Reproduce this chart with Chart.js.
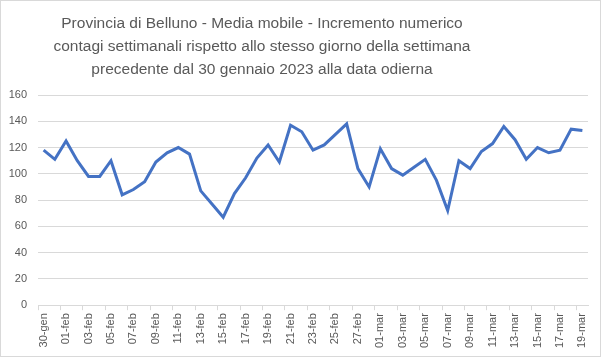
<!DOCTYPE html>
<html>
<head>
<meta charset="utf-8">
<script src="https://cdn.jsdelivr.net/npm/chart.js@4/dist/chart.umd.min.js"></script>
<style>
  html, body { margin: 0; padding: 0; background: #fff; }
  #wrap { position: absolute; left: 0; top: 0; width: 599px; height: 355px; border: 1px solid #d9d9d9; }
  canvas { display: block; }
  #title { position: absolute; left: 0; top: 11px; width: 524px; text-align: center;
           font: 15.5px 'Liberation Sans', Arial, sans-serif; line-height: 23px; color: #595959; white-space: nowrap; }
</style>
</head>
<body>
<div id="wrap"><canvas id="c" width="599" height="355"></canvas></div>
<div id="title"></div>
<script>
const titleLines = [
  "Provincia di Belluno - Media mobile - Incremento numerico",
  "contagi settimanali rispetto allo stesso giorno della settimana",
  "precedente dal 30 gennaio 2023 alla data odierna"
];
const categories = [
  "30-gen","31-gen",
  "01-feb","02-feb","03-feb","04-feb","05-feb","06-feb","07-feb","08-feb","09-feb","10-feb",
  "11-feb","12-feb","13-feb","14-feb","15-feb","16-feb","17-feb","18-feb","19-feb","20-feb",
  "21-feb","22-feb","23-feb","24-feb","25-feb","26-feb","27-feb","28-feb",
  "01-mar","02-mar","03-mar","04-mar","05-mar","06-mar","07-mar","08-mar","09-mar","10-mar",
  "11-mar","12-mar","13-mar","14-mar","15-mar","16-mar","17-mar","18-mar","19-mar"
];
const values = [
  118, 111,
  125, 110, 98, 98, 110, 84, 88, 94, 109, 116,
  120, 115, 87, 77, 67, 85, 97, 112, 122, 109,
  137, 132, 118, 122, 130, 138, 104, 90,
  119, 104, 99, 105, 111, 95, 72, 110, 104, 117,
  123, 136, 126, 111, 120, 116, 118, 134, 133
];
const yTicks = [0, 20, 40, 60, 80, 100, 120, 140, 160];

const titleEl = document.getElementById('title');
titleLines.forEach((t, i) => {
  if (i) titleEl.appendChild(document.createElement('br'));
  titleEl.appendChild(document.createTextNode(t));
});

const FONT = "'Liberation Sans', Arial, sans-serif";
const GRAY = '#595959';

new Chart(document.getElementById('c'), {
  type: 'line',
  data: {
    labels: categories,
    datasets: [{
      data: values,
      borderColor: '#4472C4',
      borderWidth: 3,
      pointRadius: 0,
      pointHoverRadius: 0,
      tension: 0,
      fill: false
    }]
  },
  options: {
    responsive: false,
    animation: false,
    devicePixelRatio: 1,
    layout: { padding: { left: 0, right: 12, top: 94, bottom: 5 } },
    plugins: {
      legend: { display: false },
      tooltip: { enabled: false },
      title: { display: false }
    },
    scales: {
      x: {
        offset: true,
        grid: {
          offset: true,
          drawOnChartArea: false,
          drawTicks: true,
          tickLength: 5,
          color: (ctx) => (ctx.index % 2 === 0 ? '#d9d9d9' : 'rgba(0,0,0,0)')
        },
        border: { display: true, color: '#d9d9d9', width: 1 },
        ticks: {
          autoSkip: false,
          maxRotation: 90,
          minRotation: 90,
          padding: 3,
          color: GRAY,
          font: { family: FONT, size: 11 },
          callback: function (v, i) { return i % 2 === 0 ? categories[i] : ''; }
        }
      },
      y: {
        min: 0,
        max: 160,
        afterBuildTicks: (axis) => { axis.ticks = yTicks.map(v => ({ value: v })); },
        afterFit: (axis) => { axis.width = 37; },
        grid: { color: '#d9d9d9', lineWidth: 1, drawTicks: false },
        border: { display: false },
        ticks: {
          padding: 11,
          color: GRAY,
          font: { family: FONT, size: 11 }
        }
      }
    }
  }
});
</script>
</body>
</html>
